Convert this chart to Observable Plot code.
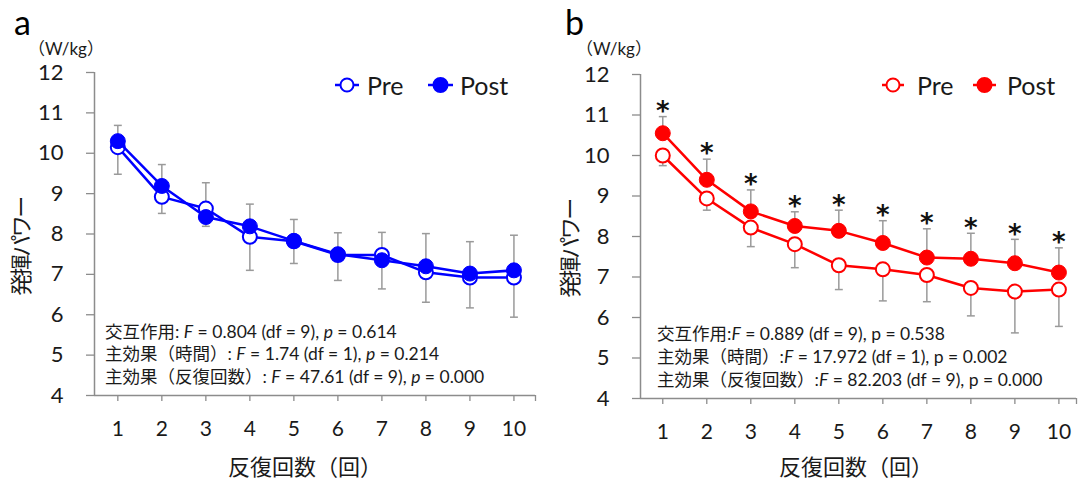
<!DOCTYPE html>
<html><head><meta charset="utf-8">
<script src="https://cdn.jsdelivr.net/npm/d3@7"></script>
<script src="https://cdn.jsdelivr.net/npm/@observablehq/plot@0.6"></script>
<style>
body{margin:0;background:#fff;}
#wrap{position:relative;width:1078px;height:481px;overflow:hidden;}
#wrap > svg{position:absolute;top:0;}
</style></head><body><div id="wrap"></div>
<script>
// ---------- data ----------
const reps = [1, 2, 3, 4, 5, 6, 7, 8, 9, 10];
const yTicks = [4, 5, 6, 7, 8, 9, 10, 11, 12];

const aPre    = [10.15, 8.92, 8.63, 7.93, 7.82, 7.48, 7.48, 7.05, 6.92, 6.92];
const aPost   = [10.30, 9.19, 8.42, 8.19, 7.83, 7.50, 7.35, 7.20, 7.02, 7.10];
const aPreSD  = [0.67, 0.41, 0.44, 0.83, 0.55, 0.63, 0.84, 0.74, 0.75, 0.98];
const aPostSD = [0.39, 0.53, 0.85, 0.55, 0.53, 0.53, 0.69, 0.81, 0.79, 0.87];
const aSig    = ["", "", "", "", "", "", "", "", "", ""];

const bPre    = [10.00, 8.94, 8.22, 7.81, 7.29, 7.19, 7.05, 6.73, 6.64, 6.69];
const bPost   = [10.55, 9.40, 8.62, 8.26, 8.14, 7.84, 7.48, 7.45, 7.34, 7.11];
const bPreSD  = [0.25, 0.29, 0.47, 0.58, 0.60, 0.78, 0.66, 0.69, 1.02, 0.91];
const bPostSD = [0.41, 0.51, 0.53, 0.35, 0.51, 0.55, 0.71, 0.63, 0.59, 0.61];
const bSig    = ["*", "*", "*", "*", "*", "*", "*", "*", "*", "*"];

const seriesNames = ["Pre", "Post"];
const unitLabel = "（W/kg）";
const yTitle = "発揮パワー";
const xTitle = "反復回数（回）";

// stats lines: [text, italic?] segments
const aStats = [
  [["交互作用", 0], [": ", 0], ["F", 1], [" = 0.804 (df = 9), ", 0], ["p", 1], [" = 0.614", 0]],
  [["主効果（時間）", 0], [": ", 0], ["F", 1], [" = 1.74 (df = 1), ", 0], ["p", 1], [" = 0.214", 0]],
  [["主効果（反復回数）", 0], [": ", 0], ["F", 1], [" = 47.61 (df = 9), ", 0], ["p", 1], [" = 0.000", 0]]
];
const bStats = [
  [["交互作用", 0], [":", 0], ["F", 1], [" = 0.889 (df = 9), p = 0.538", 0]],
  [["主効果（時間）", 0], [":", 0], ["F", 1], [" = 17.972 (df = 1), p = 0.002", 0]],
  [["主効果（反復回数）", 0], [":", 0], ["F", 1], [" = 82.203 (df = 9), p = 0.000", 0]]
];

const FONT = 'Lato, "Noto Sans CJK JP", sans-serif';
const AXIS = "#8c8c8c";
const ERR = "#9a9a9a";
const TXT = "#1a1a1a";

function panel(cfg) {
  const rows = reps.map((r, i) => ({
    x: r, pre: cfg.pre[i], post: cfg.post[i],
    preLo: cfg.pre[i] - cfg.preSD[i], postHi: cfg.post[i] + cfg.postSD[i],
    sig: cfg.sig[i]
  }));
  const cap = 0.09;
  const plot = Plot.plot({
    width: 539, height: 481,
    marginLeft: cfg.m[0], marginRight: cfg.m[1], marginTop: cfg.m[2], marginBottom: cfg.m[3],
    x: {domain: cfg.xDomain, axis: null},
    y: {domain: [4, 12], axis: null},
    style: {fontFamily: FONT, background: "transparent", overflow: "visible", color: TXT},
    marks: [
      Plot.axisY({ticks: yTicks, tickSize: 8, tickPadding: 23, fontSize: 22, stroke: AXIS, fill: TXT, strokeWidth: 1.3, label: null}),
      Plot.axisX({ticks: reps, tickSize: 6, tickPadding: 20, fontSize: 21, stroke: AXIS, fill: TXT, strokeWidth: 1.3, label: null}),
      Plot.axisX({ticks: [cfg.xDomain[1]], tickSize: 6, tickFormat: () => "", stroke: AXIS, strokeWidth: 1.3, label: null}),
      Plot.ruleX([cfg.xDomain[0]], {stroke: AXIS, strokeWidth: 1.5}),
      Plot.ruleY([4], {stroke: AXIS, strokeWidth: 1.5}),
      // error bars: Post upward, Pre downward
      Plot.link(rows, {x1: "x", x2: "x", y1: "post", y2: "postHi", stroke: ERR, strokeWidth: 1.5}),
      Plot.link(rows, {x1: d => d.x - cap, x2: d => d.x + cap, y1: "postHi", y2: "postHi", stroke: ERR, strokeWidth: 1.5}),
      Plot.link(rows, {x1: "x", x2: "x", y1: "pre", y2: "preLo", stroke: ERR, strokeWidth: 1.5}),
      Plot.link(rows, {x1: d => d.x - cap, x2: d => d.x + cap, y1: "preLo", y2: "preLo", stroke: ERR, strokeWidth: 1.5}),
      Plot.line(rows, {x: "x", y: "pre", stroke: cfg.color, strokeWidth: 2.5}),
      Plot.dot(rows, {x: "x", y: "pre", r: 7, fill: "white", stroke: cfg.color, strokeWidth: 2}),
      Plot.line(rows, {x: "x", y: "post", stroke: cfg.color, strokeWidth: 2.5}),
      Plot.dot(rows, {x: "x", y: "post", r: 7.5, fill: cfg.color, stroke: cfg.color, strokeWidth: 1}),
      Plot.text(rows.filter(d => d.sig), {x: "x", y: "postHi", text: "sig", dy: -5, fontSize: 26, fontWeight: "bold", fontFamily: "DejaVu Sans", fill: "#111"})
    ]
  });
  plot.style.left = cfg.left + "px";
  const svg = d3.select(plot);
  const xs = plot.scale("x");
  const x0 = xs.apply(cfg.xDomain[0]);
  const add = () => svg.append("text").attr("font-family", FONT).attr("fill", TXT).attr("text-anchor", "start");

  // panel letter
  add().attr("x", cfg.letterX).attr("y", 35).attr("font-size", 34).attr("fill", "#000").text(cfg.letter);
  // unit
  add().attr("x", cfg.unitX).attr("y", 55).attr("font-size", 17).text(unitLabel);
  // y title
  add().attr("transform", `translate(${cfg.yTitleX},${cfg.yTitleY}) rotate(-90)`)
    .attr("text-anchor", "middle").attr("dominant-baseline", "middle")
    .attr("letter-spacing", -2.5).attr("font-size", 22).text(yTitle);
  // x title
  add().attr("x", cfg.xTitleX).attr("y", 475).attr("text-anchor", "middle")
    .attr("font-size", 22).text(xTitle);

  // legend
  cfg.legend.forEach((L, i) => {
    svg.append("line").attr("x1", L.x1).attr("x2", L.x2).attr("y1", 85).attr("y2", 85)
      .attr("stroke", cfg.color).attr("stroke-width", 2.5);
    svg.append("circle").attr("cx", (L.x1 + L.x2) / 2).attr("cy", 85).attr("r", i === 0 ? 6.5 : 7)
      .attr("fill", i === 0 ? "white" : cfg.color).attr("stroke", cfg.color).attr("stroke-width", 2);
    add().attr("x", L.tx).attr("y", 85).attr("dominant-baseline", "central")
      .attr("font-size", 25).text(seriesNames[i]);
  });

  // stats
  cfg.stats.forEach((line, i) => {
    const t = add().attr("x", x0 + cfg.statsDX).attr("y", cfg.statsY[i])
      .attr("font-size", 17.5).style("white-space", "pre");
    line.forEach(([s, it]) => {
      t.append("tspan").attr("font-style", it ? "italic" : "normal").text(s);
    });
  });
  return plot;
}

const wrap = document.getElementById("wrap");
wrap.appendChild(panel({
  left: 0, color: "#0000ff", letter: "a",
  pre: aPre, post: aPost, preSD: aPreSD, postSD: aPostSD, sig: aSig,
  m: [94, 4, 72, 86], xDomain: [0.47, 10.49],
  letterX: 14, unitX: 28, yTitleX: 23, yTitleY: 247, xTitleX: 305,
  legend: [{x1: 335, x2: 359, tx: 367}, {x1: 428, x2: 453, tx: 460}],
  stats: aStats, statsDX: 11, statsY: [338, 360, 383]
}));
wrap.appendChild(panel({
  left: 539, color: "#ff0000", letter: "b",
  pre: bPre, post: bPost, preSD: bPreSD, postSD: bPostSD, sig: bSig,
  m: [101, 2, 74, 83], xDomain: [0.494, 10.4],
  letterX: 26, unitX: 37, yTitleX: 33, yTitleY: 249, xTitleX: 317,
  legend: [{x1: 343, x2: 365, tx: 378}, {x1: 434, x2: 457, tx: 468}],
  stats: bStats, statsDX: 17, statsY: [340, 363, 386]
}));
</script></body></html>
